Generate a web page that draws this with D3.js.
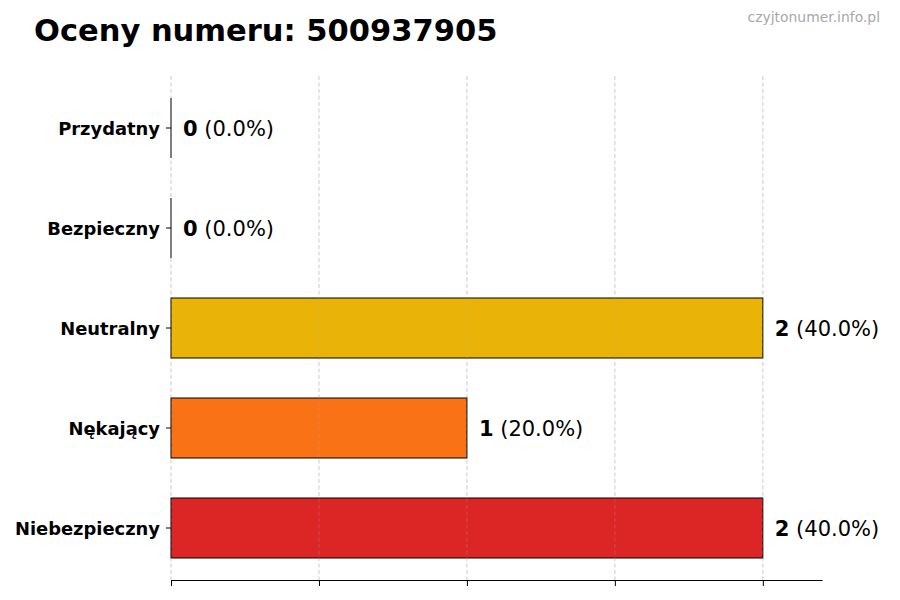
<!DOCTYPE html>
<html><head><meta charset="utf-8">
<script src="https://cdn.jsdelivr.net/npm/d3@7"></script>
<style>body{margin:0;background:#fff;} text{font-family:"DejaVu Sans",sans-serif;}</style>
</head><body>
<svg id="c" width="900" height="600"></svg>
<script>
const categories = ["Przydatny","Bezpieczny","Neutralny","Nękający","Niebezpieczny"];
const values = [0,0,2,1,2];
const percents = ["0.0%","0.0%","40.0%","20.0%","40.0%"];
const colors = ["#22C55E","#3B82F6","#EAB308","#F97316","#DC2626"];
const xTicks = [0,0.5,1,1.5,2];
const title = "Oceny numeru: 500937905";
const watermark = "czyjtonumer.info.pl";

(function(){
const svg = d3.select("#c");
const mLeft = 171, mRight = 822, mTop = 76, mBottom = 580;
const x = d3.scaleLinear().domain([0,2.2]).range([mLeft,mRight]);
const y = d3.scaleBand().domain(categories).range([78,578]).paddingInner(0.4).paddingOuter(0.2);

svg.append("text").attr("x",34).attr("y",41).attr("font-size",30.5).attr("font-weight","bold").attr("fill","#000").text(title);
svg.append("text").attr("x",880).attr("y",22).attr("text-anchor","end").attr("font-size",13.9).attr("fill","#a8a8a8").text(watermark);

svg.append("g").selectAll("line").data(xTicks).join("line")
  .attr("x1",d=>x(d)).attr("x2",d=>x(d)).attr("y1",mTop).attr("y2",mBottom)
  .attr("stroke","#b0b0b0").attr("stroke-opacity",0.55).attr("stroke-dasharray","4,2.5").attr("stroke-width",0.8);

const bars = svg.append("g");
bars.selectAll("rect").data(categories.filter((d,i)=>values[i]>0)).join("rect")
  .attr("x",x(0)).attr("y",d=>y(d)).attr("height",y.bandwidth())
  .attr("width",d=>x(values[categories.indexOf(d)])-x(0))
  .attr("fill",d=>colors[categories.indexOf(d)]).attr("stroke","#000").attr("stroke-width",1);
bars.selectAll("line").data(categories.filter((d,i)=>values[i]===0)).join("line")
  .attr("x1",x(0)).attr("x2",x(0)).attr("y1",d=>y(d)).attr("y2",d=>y(d)+y.bandwidth())
  .attr("stroke","#000").attr("stroke-width",1);

svg.append("g").selectAll("line").data(xTicks).join("line")
  .attr("x1",d=>x(d)).attr("x2",d=>x(d)).attr("y1",mTop).attr("y2",mBottom)
  .attr("stroke","#b0b0b0").attr("stroke-opacity",0.35).attr("stroke-dasharray","4,2.5").attr("stroke-width",0.8);

const xa = svg.append("g").attr("transform",`translate(0,${mBottom})`)
  .call(d3.axisBottom(x).tickValues(xTicks).tickFormat("").tickSize(6).tickSizeOuter(0));
xa.select(".domain").attr("stroke","#000").attr("stroke-width",1.2);
xa.selectAll(".tick line").attr("stroke","#000");

const ya = svg.append("g").attr("transform",`translate(${mLeft},0)`)
  .call(d3.axisLeft(y).tickSize(5).tickPadding(6));
ya.select(".domain").remove();
ya.selectAll(".tick line").attr("stroke","#000");
ya.selectAll(".tick text").attr("font-size",17.9).attr("font-weight","bold").attr("fill","#000").attr("font-family","DejaVu Sans").attr("dy","0.4em");

const lab = svg.append("g").selectAll("text").data(categories).join("text")
  .attr("x",(d,i)=>x(values[i])+12).attr("y",d=>y(d)+y.bandwidth()/2).attr("dy","0.38em")
  .attr("font-size",21).attr("fill","#000");
lab.append("tspan").attr("font-weight","bold").text((d,i)=>values[i]);
lab.append("tspan").text((d,i)=>" ("+percents[i]+")");
})();
</script>
</body></html>
